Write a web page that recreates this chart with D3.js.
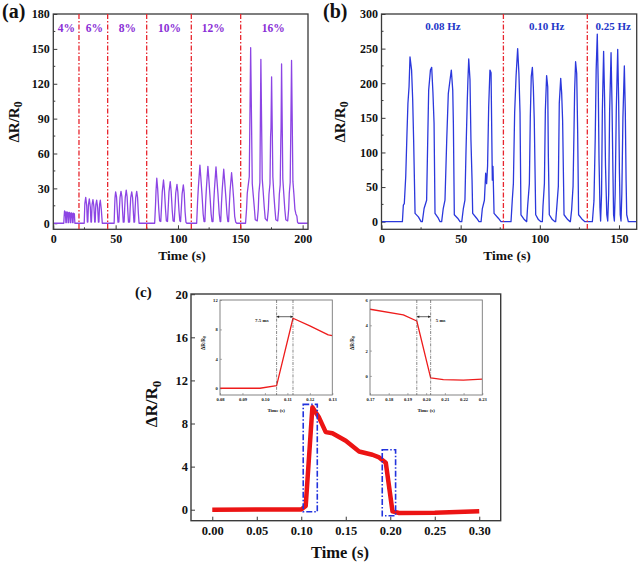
<!DOCTYPE html>
<html><head><meta charset="utf-8">
<script src="https://cdn.jsdelivr.net/npm/d3@7"></script>
<style>
html,body{margin:0;padding:0;background:#fff;}
svg{display:block;font-family:"Liberation Serif","Times New Roman",serif;font-weight:bold;}
</style></head>
<body><svg id="c" width="640" height="566"></svg>
<script>
// ---------- DATA ----------
// Panel (a): strain series, [time (s), ΔR/R0]
const a4 = [[0,0],[8.4,0],[8.7,6],[9.0,10.6],[9.7,9.6],[10.1,0.5],[10.4,0.5],[10.8,9.8],[11.5,9.2],[11.9,0.5],[12.2,0.5],[12.6,9.4],[13.3,8.8],[13.7,0.5],[14.0,0.5],[14.4,9.0],[15.1,8.6],[15.5,0.5],[15.8,0.5],[16.2,8.6],[16.9,8.2],[17.3,0]];
const a6 = [[24.8,0],[25.3,17],[26.0,22.3],[26.8,15],[27.3,1],[27.7,1],[28.2,16],[28.9,20.9],[29.7,14],[30.2,1],[30.6,1],[31.1,16],[31.8,20.3],[32.6,14],[33.2,1],[33.6,1],[34.1,16],[34.8,19.8],[35.6,13],[36.2,1],[36.6,1],[37.1,16],[37.7,19.8],[38.5,12],[39.3,0]];
const a8 = [[48.8,0],[49.2,14],[49.5,22],[50.0,27],[50.7,23],[51.4,10],[51.9,1],[52.6,1],[53.1,14],[53.5,22],[54.3,27.5],[55.0,23],[55.6,10],[56.1,1],[56.8,1],[57.3,14],[57.7,22],[58.5,28.5],[59.2,23],[59.8,10],[60.3,1],[61.2,1],[61.7,14],[62.1,22],[62.9,27],[63.6,22],[64.2,10],[64.7,1],[65.2,1],[65.7,14],[66.1,22],[66.9,27.5],[67.6,22],[68.2,9],[68.8,0]];
const a10 = [[81.3,0],[82.0,16],[82.4,28],[83.0,38.7],[83.7,30],[84.6,12],[85.3,2],[86.2,1.5],[86.9,16],[87.4,27],[88.4,37.2],[89.1,29],[90.0,12],[90.7,2],[91.6,1.5],[92.3,16],[92.8,27],[93.8,35.8],[94.5,28],[95.4,11],[96.1,2],[97.0,1.5],[97.7,15],[98.2,26],[99.2,33.5],[99.9,27],[100.8,11],[101.5,2],[102.1,1.5],[102.8,15],[103.3,25],[104.3,33],[105.0,26],[105.7,10],[106.4,1],[107.0,0]];
const a12 = [[115.0,0],[115.7,18],[116.3,30],[117.6,50],[118.3,40],[119.2,26],[120.2,8],[120.9,1.5],[121.6,1.5],[122.2,18],[122.8,30],[124.0,49],[124.7,39],[125.6,25],[126.6,8],[127.3,1.5],[128.1,1.5],[128.7,18],[129.3,30],[130.5,48.5],[131.2,38],[132.1,25],[133.1,8],[133.8,1.5],[134.3,1.5],[134.9,17],[135.5,29],[136.7,46.5],[137.4,37],[138.3,24],[139.3,8],[140.0,1.5],[140.6,1.5],[141.2,16],[141.8,28],[143.0,43.5],[143.7,35],[144.6,22],[145.5,6],[146.3,1],[147.2,0]];
const a16 = [[154.2,0],[155.0,12],[155.6,26],[156.4,33],[157.2,40],[158.3,151],[159.6,34],[160.4,24],[161.2,14],[162.0,3],[163.6,2],
  [164.4,12],[164.9,26],[165.7,35],[166.5,141],[167.6,38],[168.3,28],[169.2,14],[170.0,4],[171.6,2],
  [172.5,12],[173.0,25],[173.8,34],[174.3,75],[174.6,82],[175.1,126],[176.1,40],[176.9,25],[177.7,13],[178.5,3],[180.0,2],
  [180.8,12],[181.3,25],[182.0,33],[182.5,72],[182.7,82],[183.1,137],[184.1,38],[184.9,25],[185.7,12],[186.5,3],[188.0,2],
  [188.8,12],[189.3,26],[190.0,35],[190.5,80],[191.1,140],[192.2,36],[193.0,25],[193.8,12],[194.6,8],[195.4,6],[195.9,1],[196.5,0],[204,0]];
const aDividers = [20.6, 43.6, 74.9, 110.7, 150.3];
const aLabels = ["4%","6%","8%","10%","12%","16%"];
const aLabelX = [10.5, 33, 59.5, 93.3, 128.2, 176.4];
const aXTicks = [0,50,100,150,200];
const aYTicks = [0,30,60,90,120,150,180];

// Panel (b): frequency series, [time (s), ΔR/R0]
const b008 = [[0,0],[13.2,0],[13.8,24],[14.4,26],[15.3,65],[16.1,128],[16.7,171],[17.4,195],[18.0,238],[19.0,219],[19.7,176],[20.3,118],[21.2,12],[23.3,7],[25.0,0],[25.8,0],
  [26.9,19],[28.5,31],[29.2,118],[29.8,190],[30.9,219],[31.7,223],[32.5,186],[33.2,142],[33.8,12],[35.9,5],[37.0,0],
  [38.0,0],[39.0,19],[40.1,31],[41.2,118],[42.2,185],[43.3,205],[44.1,219],[45.0,190],[45.4,142],[46.0,10],[48.1,5],[49.6,0],
  [50.7,0],[51.7,19],[52.7,31],[53.4,104],[54.2,176],[54.6,205],[55.1,235],[55.9,205],[56.5,118],[57.2,60],[57.6,12],[60.1,5],[61.6,0],
  [62.9,0],[63.7,19],[65.0,31],[65.8,70],[66.4,55],[67.0,80],[67.7,166],[68.5,219],[69.2,215],[70.0,60],[70.4,80],[71.1,12],[73.8,5],[75.5,0],[81.8,0]];
const b010 = [[81.8,0],[82.6,31],[83.3,55],[84.1,157],[85.0,210],[86.0,250],[86.8,214],[87.5,157],[88.1,10],[90.2,3],[91.7,0],
  [92.3,22],[93.4,55],[94.0,152],[94.6,210],[95.3,223],[95.9,195],[96.5,147],[97.4,10],[99.1,3],[100.7,0],
  [101.6,0],[102.0,22],[102.9,55],[103.5,161],[104.3,211],[105.0,195],[105.4,94],[106.0,10],[107.9,3],[109.6,0],
  [110.0,0],[110.6,17],[111.7,51],[112.3,171],[113.2,207],[113.8,186],[114.4,147],[115.3,10],[117.6,3],[119.1,0],
  [119.3,0],[120.1,17],[121.0,51],[121.6,132],[122.0,190],[122.6,231],[123.3,214],[123.9,132],[124.5,10],[126.9,3],[128.5,0],[133.2,0]];
const b025 = [[133.2,0],[134.2,30],[135.0,120],[135.6,220],[136.3,271],[136.9,200],[137.4,90],[138.0,20],[138.4,1],
  [139.0,40],[139.5,160],[140.3,246],[140.9,180],[141.5,80],[142.3,10],[142.9,1],
  [143.5,40],[144.1,160],[145.0,244],[145.6,170],[146.2,70],[146.6,10],[147.1,1],
  [147.6,40],[148.3,160],[149.2,249],[149.8,175],[150.3,70],[150.8,10],[151.3,1],
  [151.8,40],[152.5,150],[153.4,225],[154.0,160],[154.5,60],[154.9,10],[155.9,0],[161,0]];
const bDividers = [77, 130];
const bLabels = ["0.08 Hz","0.10 Hz","0.25 Hz"];
const bLabelX = [38.8, 104.3, 146.3];
const bXTicks = [0,50,100,150];
const bYTicks = [0,50,100,150,200,250,300];

// Panel (c): single response, [time (s), ΔR/R0]
const cMain = [[0,0],[0.1,0.02],[0.105,0.35],[0.1125,9.5],[0.12,8.55],[0.1275,7.2],[0.135,7.1],[0.15,6.4],[0.165,5.4],[0.18,5.1],[0.1875,4.85],[0.195,4.35],[0.2025,-0.15],[0.21,-0.3],[0.25,-0.28],[0.3,-0.15]];
const cBoxes = [[0.1022,0.118,9.78,-0.19],[0.191,0.206,5.57,-0.56]];
const cXTicks = [0,0.05,0.1,0.15,0.2,0.25,0.3];
const cYTicks = [0,4,8,12,16,20];
const inset1 = [[0.08,0],[0.0978,0],[0.1052,0.35],[0.1125,9.52],[0.12,8.48],[0.1282,7.25],[0.13,7.16]];
const inset1Marks = [0.1052, 0.1125];
const inset1XTicks = [0.08,0.09,0.10,0.11,0.12,0.13];
const inset1YTicks = [0,4,8,12];
const inset2 = [[0.17,5.27],[0.1878,4.82],[0.195,4.34],[0.2024,-0.16],[0.2092,-0.29],[0.2199,-0.33],[0.23,-0.25]];
const inset2Marks = [0.195, 0.2024];
const inset2XTicks = [0.17,0.18,0.19,0.20,0.21,0.22,0.23];
const inset2YTicks = [0,2,4,6];

// ---------- DRAW ----------
const svg = d3.select("#c");
const FRAME = "#3a3a3a";

function ylabel(g, x, y, size) {
  const t = g.append("text").attr("transform", `translate(${x},${y}) rotate(-90)`)
    .attr("text-anchor","middle").attr("font-size", size).attr("fill","#111");
  t.append("tspan").text("ΔR/R");
  t.append("tspan").attr("font-size", size*0.78).attr("dy", size*0.22).text("0");
}

function panel(o) {
  const x = d3.scaleLinear().domain(o.xd).range([o.l, o.r]);
  const y = d3.scaleLinear().domain(o.yd).range([o.b, o.t]);
  const g = svg.append("g");
  const ax = d3.axisBottom(x).tickValues(o.xt).tickSizeInner(-o.tk).tickSizeOuter(0).tickPadding(o.xpad).tickFormat(o.xf || d3.format("d"));
  const ay = d3.axisLeft(y).tickValues(o.yt).tickSizeInner(-o.tk).tickSizeOuter(0).tickPadding(o.ypad).tickFormat(o.yf || d3.format("d"));
  const gx = g.append("g").attr("transform", `translate(0,${o.b})`).call(ax);
  const gy = g.append("g").attr("transform", `translate(${o.l},0)`).call(ay);
  [gx, gy].forEach(a => {
    a.select(".domain").remove();
    a.selectAll("text").attr("font-size", o.fs).attr("font-family", null).attr("fill", "#111");
    a.selectAll("line").attr("stroke", o.frame || FRAME).attr("stroke-width", o.tw || 1);
    a.attr("font-family", null);
  });
  if (o.xm) {
    g.append("g").selectAll("line").data(o.xm).join("line")
      .attr("x1", d=>x(d)).attr("x2", d=>x(d)).attr("y1", o.b).attr("y2", o.b - o.tk/2)
      .attr("stroke", o.frame || FRAME).attr("stroke-width", o.tw || 1);
  }
  if (o.ym) {
    g.append("g").selectAll("line").data(o.ym).join("line")
      .attr("y1", d=>y(d)).attr("y2", d=>y(d)).attr("x1", o.l).attr("x2", o.l + o.tk/2)
      .attr("stroke", o.frame || FRAME).attr("stroke-width", o.tw || 1);
  }
  const clipId = "clip" + Math.random().toString(36).slice(2);
  svg.append("clipPath").attr("id", clipId).append("rect")
    .attr("x", o.l).attr("y", o.t).attr("width", o.r - o.l).attr("height", o.b - o.t);
  const plot = g.append("g").attr("clip-path", `url(#${clipId})`);
  g.append("rect").attr("x", o.l).attr("y", o.t).attr("width", o.r - o.l).attr("height", o.b - o.t)
    .attr("fill","none").attr("stroke", o.frame || FRAME).attr("stroke-width", o.fw || 1.3);
  return {x, y, g, plot};
}

const line = (x, y) => d3.line().x(d => x(d[0])).y(d => y(d[1]));

// ----- Panel (a) -----
{
  const P = panel({xd:[0,204.3], yd:[-5.2,180], l:53.3, r:308, t:14, b:229.3,
    xt:aXTicks, yt:aYTicks, xm:[25,75,125,175], ym:[15,45,75,105,135,165], tk:4, xpad:5, ypad:3.5, fs:12});
  const data = [].concat(a4, a6, a8, a10, a12, a16);
  P.plot.append("path").datum(data).attr("d", line(P.x, P.y)).attr("fill","none")
    .attr("stroke","#8c45e4").attr("stroke-width",1.3).attr("stroke-linejoin","round");
  P.g.append("g").selectAll("line").data(aDividers).join("line")
    .attr("x1", d=>P.x(d)).attr("x2", d=>P.x(d)).attr("y1", 14).attr("y2", 229.3)
    .attr("stroke","#e8262e").attr("stroke-width",1.3).attr("stroke-dasharray","5,2,1.5,2");
  P.g.append("g").selectAll("text").data(aLabels).join("text")
    .attr("x", (d,i)=>P.x(aLabelX[i])).attr("y", 32).attr("text-anchor","middle")
    .attr("font-size", 11.5).attr("fill","#8a2fd6").text(d=>d);
  svg.append("text").attr("x", 182).attr("y", 260).attr("text-anchor","middle").attr("font-size", 13.5).attr("fill","#111").text("Time (s)");
  ylabel(svg, 19, 122, 15);
  svg.append("text").attr("x", 2).attr("y", 18).attr("font-size", 20).attr("fill","#111").text("(a)");
}

// ----- Panel (b) -----
{
  const P = panel({xd:[0,161.2], yd:[-11,300], l:381.5, r:636.7, t:14, b:229.3,
    xt:bXTicks, yt:bYTicks, xm:[25,75,125], ym:[25,75,125,175,225,275], tk:4, xpad:5, ypad:3.5, fs:12});
  const data = [].concat(b008, b010, b025);
  P.plot.append("path").datum(data).attr("d", line(P.x, P.y)).attr("fill","none")
    .attr("stroke","#2b38dc").attr("stroke-width",1.3).attr("stroke-linejoin","round");
  P.g.append("g").selectAll("line").data(bDividers).join("line")
    .attr("x1", d=>P.x(d)).attr("x2", d=>P.x(d)).attr("y1", 14).attr("y2", 229.3)
    .attr("stroke","#e8262e").attr("stroke-width",1.3).attr("stroke-dasharray","5,2,1.5,2");
  P.g.append("g").selectAll("text").data(bLabels).join("text")
    .attr("x", (d,i)=>P.x(bLabelX[i])).attr("y", 30).attr("text-anchor","middle")
    .attr("font-size", 11).attr("fill","#2236c8").text(d=>d);
  svg.append("text").attr("x", 507).attr("y", 260).attr("text-anchor","middle").attr("font-size", 13.5).attr("fill","#111").text("Time (s)");
  ylabel(svg, 345, 122, 15);
  svg.append("text").attr("x", 323).attr("y", 18).attr("font-size", 20).attr("fill","#111").text("(b)");
}

// ----- Panel (c) -----
{
  const P = panel({xd:[-0.0239,0.3241], yd:[-1.02,20.02], l:191, r:500.7, t:294, b:520.7,
    xt:cXTicks, yt:cYTicks, xf:d3.format(".2f"), tk:4, xpad:5, ypad:3, fs:12.5, fw:1.4});
  P.plot.append("path").datum(cMain).attr("d", line(P.x, P.y)).attr("fill","none")
    .attr("stroke","#ec1414").attr("stroke-width",4.5).attr("stroke-linejoin","round");
  P.g.append("g").selectAll("rect").data(cBoxes).join("rect")
    .attr("x", d=>P.x(d[0])).attr("y", d=>P.y(d[2]))
    .attr("width", d=>P.x(d[1])-P.x(d[0])).attr("height", d=>P.y(d[3])-P.y(d[2]))
    .attr("fill","none").attr("stroke","#2233dd").attr("stroke-width",1.6).attr("stroke-dasharray","6,2,1.5,2");
  svg.append("text").attr("x", 340).attr("y", 558).attr("text-anchor","middle").attr("font-size", 16.5).attr("fill","#111").text("Time (s)");
  ylabel(svg, 157, 404, 17);
  svg.append("text").attr("x", 135).attr("y", 297).attr("font-size", 15).attr("fill","#111").text("(c)");

  // insets
  const insets = [
    {data:inset1, marks:inset1Marks, xt:inset1XTicks, yt:inset1YTicks, xd:[0.08,0.13], yd:[-0.92,12], l:220, r:332.3, lab:"7.5 ms", labSide:"left", ylx:205},
    {data:inset2, marks:inset2Marks, xt:inset2XTicks, yt:inset2YTicks, xd:[0.17,0.23], yd:[-1.51,6], l:370, r:482.3, lab:"5 ms", labSide:"right", ylx:354}
  ];
  insets.forEach(s => {
    const I = panel({xd:s.xd, yd:s.yd, l:s.l, r:s.r, t:300, b:395, xt:s.xt, yt:s.yt,
      xf:d3.format(".2f"), tk:2, xpad:2.8, ypad:2.3, fs:4.6, frame:"#777", fw:0.9, tw:0.6});
    I.plot.append("path").datum(s.data).attr("d", line(I.x, I.y)).attr("fill","none")
      .attr("stroke","#ee1c1c").attr("stroke-width",1.3).attr("stroke-linejoin","round");
    I.g.append("g").selectAll("line").data(s.marks).join("line")
      .attr("x1", d=>I.x(d)).attr("x2", d=>I.x(d)).attr("y1", 300).attr("y2", 395)
      .attr("stroke","#555").attr("stroke-width",0.7).attr("stroke-dasharray","3,1.2,0.8,1.2");
    const ay = 316.7, x1 = I.x(s.marks[0]), x2 = I.x(s.marks[1]);
    I.g.append("line").attr("x1", x1).attr("x2", x2).attr("y1", ay).attr("y2", ay).attr("stroke","#222").attr("stroke-width",0.7);
    [[x1,1],[x2,-1]].forEach(([px,dir]) => {
      I.g.append("path").attr("d", `M${px},${ay} l${dir*2.5},-1.3 l0,2.6 z`).attr("fill","#222");
    });
    I.g.append("text").attr("x", s.labSide==="left" ? x1 - 8 : x2 + 5).attr("y", 322)
      .attr("text-anchor", s.labSide==="left" ? "end" : "start").attr("font-size", 5).attr("fill","#111").text(s.lab);
    svg.append("text").attr("x", (s.l+s.r)/2).attr("y", 411.5).attr("text-anchor","middle").attr("font-size", 5).attr("fill","#111").text("Time (s)");
    ylabel(svg, s.ylx, 343, 5.2);
  });
}
</script></body></html>
